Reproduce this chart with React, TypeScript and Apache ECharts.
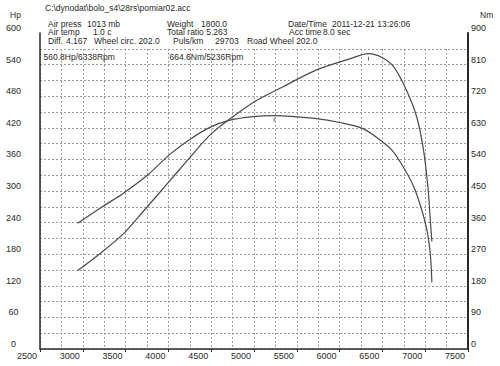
import React, { useEffect, useRef } from "react";
import * as echarts from "echarts";

// Power curve (Hp) vs rpm
const powerRpm = [2940, 3200, 3470, 3710, 4020, 4290, 4490, 4720, 5010, 5340, 5730, 6120, 6338, 6490, 6630, 6780, 6900, 6980, 7035, 7062, 7078];
const powerHp = [149, 181, 218, 262, 320, 371, 407, 437, 470, 498, 530, 551, 560.8, 554, 536, 492, 441, 378, 302, 239, 204];

// Torque curve (Nm) vs rpm
const torqueRpm = [2940, 3240, 3470, 3750, 4020, 4250, 4490, 4720, 4990, 5236, 5730, 6000, 6280, 6510, 6630, 6760, 6870, 6960, 7020, 7055, 7070, 7078];
const torqueNm = [358, 407, 443, 494, 555, 597, 632, 652, 662, 664.6, 656, 645, 627, 588, 561, 512, 460, 396, 339, 282, 234, 190];

// Peaks
const peakPower = [6338, 560.8];
const peakTorque = [5236, 664.6];

// Axis ranges / ticks
const rpmMin = 2500;
const rpmMax = 7500;
const rpmStep = 500;
const hpMax = 600;
const hpStep = 60;
const nmMax = 900;
const nmStep = 90;

// Header texts
const headerTexts: [number, number, string][] = [
  [45, 7.5, "C:\\dynodat\\bolo_s4\\28rs\\pomiar02.acc"],
  [48, 23.8, "Air press"],
  [87, 23.8, "1013 mb"],
  [167, 23.8, "Weight"],
  [201, 23.8, "1800.0"],
  [288, 23.8, "Date/Time"],
  [332, 23.8, "2011-12-21 13:26:06"],
  [48, 32.3, "Air temp"],
  [93, 32.3, "1.0 c"],
  [167, 32.3, "Total ratio 5.263"],
  [289, 32.3, "Acc time"],
  [323, 32.3, "8.0 sec"],
  [48, 40.8, "Diff."],
  [66, 40.8, "4.167"],
  [94, 40.8, "Wheel circ. 202.0"],
  [173, 40.8, "Puls/km"],
  [215, 40.8, "29703"],
  [247, 40.8, "Road Wheel 202.0"],
  [43.5, 57.3, "560.8Hp/6338Rpm"],
  [169.5, 57.3, "664.6Nm/5236Rpm"],
  [10, 15, "Hp"],
  [480, 15, "Nm"],
];

const FONT = "'Liberation Sans', Arial, sans-serif";
const INK = "#2a2a2a";
const GRIDC = "#9a9a9a";

export default function App() {
  const ref = useRef<HTMLDivElement>(null);
  useEffect(() => {
    if (!ref.current) return;
    const chart = echarts.init(ref.current, undefined, { renderer: "svg" });
    const power = powerRpm.map((r, i) => [r, powerHp[i]]);
    const torque = torqueRpm.map((r, i) => [r, torqueNm[i]]);
    const labelStyle = { color: INK, fontSize: 9, fontFamily: FONT };
    chart.setOption({
      animation: false,
      backgroundColor: "#ffffff",
      grid: [
        { left: 40, right: 32, top: 48.8, bottom: 17 },
        { left: 40, right: 32, top: 33, bottom: 17 },
      ],
      xAxis: [
        {
          gridIndex: 0,
          type: "value",
          min: rpmMin,
          max: rpmMax,
          interval: rpmStep / 2,
          axisLine: { show: false },
          axisTick: { show: false },
          axisLabel: { show: false },
          splitLine: { show: true, lineStyle: { color: GRIDC, width: 1, type: [2, 2] } },
        },
        {
          gridIndex: 1,
          type: "value",
          min: rpmMin,
          max: rpmMax,
          interval: rpmStep,
          axisLine: { show: true, lineStyle: { color: INK, width: 1.5 } },
          axisTick: { show: true, length: 3, lineStyle: { color: INK } },
          axisLabel: {
            ...labelStyle,
            margin: 2,
            align: "right",
            padding: [0, 3, 0, 0],
            formatter: (v: number) => String(v),
          },
          splitLine: { show: false },
        },
      ],
      yAxis: [
        {
          gridIndex: 0,
          type: "value",
          min: 0,
          max: hpMax - hpStep / 2,
          interval: hpStep / 2,
          axisLine: { show: false },
          axisTick: { show: false },
          axisLabel: { show: false },
          splitLine: { show: true, lineStyle: { color: GRIDC, width: 1, type: [2, 2] } },
        },
        {
          gridIndex: 1,
          type: "value",
          position: "left",
          min: 0,
          max: hpMax,
          interval: hpStep,
          axisLine: { show: true, lineStyle: { color: INK, width: 1.5 } },
          axisTick: { show: false },
          axisLabel: { ...labelStyle, margin: 26.5, align: "center", verticalAlign: "bottom", lineHeight: 10 },
          splitLine: { show: false },
        },
        {
          gridIndex: 1,
          type: "value",
          position: "right",
          min: 0,
          max: nmMax,
          interval: nmStep,
          axisLine: { show: true, lineStyle: { color: INK, width: 2 } },
          axisTick: { show: false },
          axisLabel: { ...labelStyle, margin: 3, align: "left", verticalAlign: "bottom", lineHeight: 10 },
          splitLine: { show: false },
        },
      ],
      series: [
        {
          type: "line",
          name: "Power",
          xAxisIndex: 1,
          yAxisIndex: 1,
          data: power,
          showSymbol: false,
          smooth: 0.3,
          lineStyle: { color: "#4a4a4a", width: 1.2 },
        },
        {
          type: "line",
          name: "Torque",
          xAxisIndex: 1,
          yAxisIndex: 2,
          data: torque,
          showSymbol: false,
          smooth: 0.3,
          lineStyle: { color: "#4a4a4a", width: 1.2 },
        },
        {
          type: "scatter",
          xAxisIndex: 1,
          yAxisIndex: 1,
          data: [peakPower],
          symbol: "rect",
          symbolSize: [1, 4],
          symbolOffset: [0, 5],
          itemStyle: { color: "#444" },
        },
        {
          type: "scatter",
          xAxisIndex: 1,
          yAxisIndex: 2,
          data: [peakTorque],
          symbol: "rect",
          symbolSize: [1, 4],
          symbolOffset: [0, 4],
          itemStyle: { color: "#444" },
        },
      ],
      graphic: headerTexts.map(([x, y, t]) => ({
        type: "text",
        x,
        y,
        z: 10,
        style: {
          text: t,
          fill: INK,
          fontSize: 8.5,
          lineHeight: 8,
          fontFamily: FONT,
          verticalAlign: "middle",
          align: "left",
        },
      })),
    });
    return () => chart.dispose();
  }, []);
  return (
    <div
      ref={ref}
      style={{ position: "fixed", left: 0, top: 0, width: 500, height: 366, background: "#fff" }}
    />
  );
}
